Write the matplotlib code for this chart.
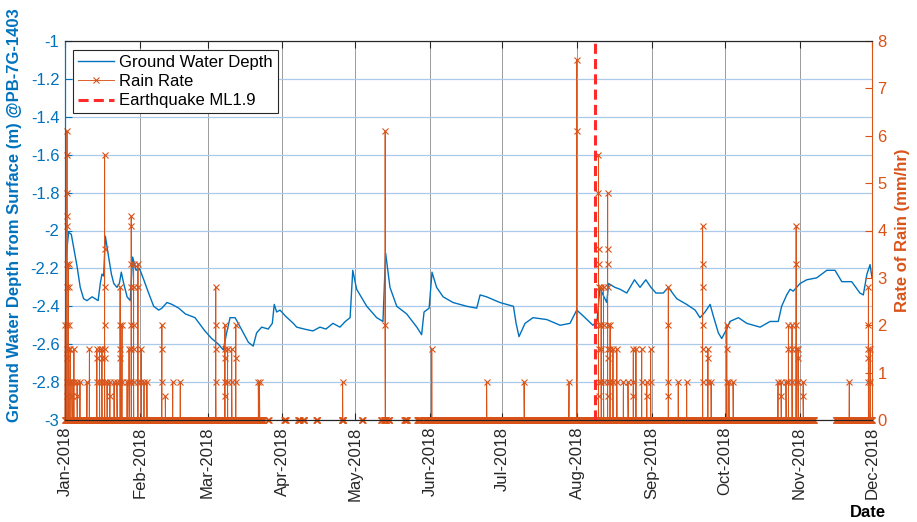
import numpy as np
import matplotlib
matplotlib.use('Agg')
import matplotlib.pyplot as plt
import matplotlib.dates as mdates
from datetime import datetime

plt.rcParams['font.family'] = ['Liberation Sans', 'DejaVu Sans']
plt.rcParams['axes.unicode_minus'] = False

BLUE = '#0072BD'
ORANGE = '#D95319'
DARK = '#262626'

# ground water depth (m), days counted from 1 Jan 2018
gw_day = [0, 0.6, 1.5, 2.6, 3.6, 5.0, 6.3, 7.7, 9.1, 11.2, 12.5, 13.7, 14.6, 15.3, 16.0, 16.7,
          17.8, 19.2, 20.2, 21.5, 22.5, 23.3, 24.3, 25.7, 27.0, 28.0, 29.4, 30.8, 32.6, 34.6,
          36.7, 38.8, 40.1, 42.2, 44.3, 47.1, 49.8, 53.8, 57.9, 60.7, 63.5, 65.5, 66.9, 68.3,
          70.4, 71.7, 73.8, 75.9, 77.9, 79.3, 81.4, 84.1, 85.8, 86.6, 87.6, 89.0, 91.1, 94.5,
          95.9, 99.0, 102.6, 105.5, 108.0, 110.9, 113.8, 116.0, 118.0, 119.1, 120.7, 124.9,
          129.0, 131.6, 132.7, 134.5, 137.3, 141.4, 145.6, 147.6, 148.6, 150.7, 151.9, 153.8,
          156.5, 160.6, 166.3, 170.4, 171.8, 174.5, 180.0, 185.6, 186.7, 187.9, 190.4, 193.7,
          199.4, 204.9, 209.0, 211.8, 214.4, 218.5, 220.2, 221.4, 222.7, 224.2, 225.0, 227.6,
          229.7, 232.5, 235.7, 238.0, 240.4, 242.5, 244.6, 247.6, 249.7, 253.2, 257.3, 260.8,
          262.8, 264.9, 267.0, 268.3, 270.4, 271.8, 273.9, 275.2, 278.7, 282.2, 287.7, 291.8,
          295.2, 296.6, 298.7, 300.1, 301.4, 304.2, 307.0, 311.1, 315.3, 318.7, 321.5, 325.6,
          329.0, 330.4, 331.9, 333.2, 334.0]
gw_depth = [-2.17, -2.12, -2.01, -2.02, -2.09, -2.19, -2.30, -2.36, -2.37, -2.35, -2.36, -2.37,
            -2.28, -2.23, -2.24, -2.03, -2.12, -2.23, -2.28, -2.30, -2.28, -2.22, -2.28, -2.35,
            -2.37, -2.14, -2.21, -2.20, -2.26, -2.33, -2.40, -2.42, -2.41, -2.38, -2.39, -2.41,
            -2.44, -2.46, -2.53, -2.57, -2.60, -2.63, -2.54, -2.46, -2.46, -2.49, -2.54, -2.59,
            -2.61, -2.54, -2.51, -2.52, -2.49, -2.39, -2.43, -2.42, -2.45, -2.49, -2.51, -2.52,
            -2.53, -2.51, -2.52, -2.49, -2.51, -2.48, -2.46, -2.21, -2.31, -2.40, -2.46, -2.48,
            -2.12, -2.30, -2.40, -2.44, -2.51, -2.55, -2.43, -2.41, -2.22, -2.30, -2.35, -2.38,
            -2.40, -2.41, -2.34, -2.35, -2.38, -2.40, -2.49, -2.56, -2.49, -2.46, -2.47, -2.50,
            -2.49, -2.42, -2.45, -2.50, -2.48, -2.30, -2.34, -2.38, -2.28, -2.30, -2.31, -2.33,
            -2.26, -2.30, -2.26, -2.30, -2.33, -2.33, -2.30, -2.36, -2.39, -2.42, -2.46, -2.43,
            -2.39, -2.45, -2.54, -2.57, -2.52, -2.48, -2.46, -2.49, -2.51, -2.48, -2.48, -2.40,
            -2.34, -2.31, -2.32, -2.28, -2.26, -2.25, -2.21, -2.21, -2.27, -2.27, -2.33, -2.34,
            -2.23, -2.18, -2.25]

# periods when the rain gauge was logging (days); it reads 0 between showers
rain_periods = [(0, 82), (84.0, 84.3), (90.8, 91.3), (96.5, 97.2), (98.5, 99.0), (104.0, 104.6),
                (114.5, 115.3), (122.8, 123.2), (130.8, 131.2), (132.0, 133.0), (133.8, 134.3),
                (140.5, 141.6), (145.8, 147.5), (149, 310), (319, 334)]
rain_step = 0.125

# showers: day and the rates logged during each (mm/hr)
shower_day = [0.1, 0.83, 1.45, 2.1, 2.9, 3.7, 5.0, 6.2, 9.1, 10.1, 13.2, 14.3, 15.3, 16.4, 17.4,
              18.6, 20.3, 21.5, 22.8, 23.6, 25.7, 26.5, 27.4, 28.4, 30.2, 31.5, 32.7, 33.9, 40.1,
              41.5, 44.6, 47.7, 62.4, 66.2, 67.3, 69.0, 70.7, 80.0, 80.5,
              114.9, 132.5, 151.8, 174.5, 190.0, 208.6, 211.8,
              220.8, 221.9, 222.9, 224.6, 225.6, 226.8, 228.4, 231.1, 233.0, 235.2, 236.3, 238.7,
              240.8, 242.4, 249.7, 253.8, 257.3, 263.9, 266.1, 267.4, 273.9, 274.8, 276.5, 295.1,
              296.4, 298.4, 299.4, 300.9, 302.6, 303.4, 305.5, 324.6, 332.5, 333.2]
shower_rates = [[2.0], [6.1, 5.6, 4.8, 4.3, 4.1, 3.3, 2.8, 2.0, 1.5, 1.3, 0.8, 0.5],
                [3.3, 2.8, 2.0, 1.5, 0.8], [1.5, 0.8], [0.8, 0.5], [1.5, 0.8], [0.8, 0.5], [0.8],
                [0.8], [1.5], [1.5, 1.3, 0.8], [1.5, 0.8], [1.5, 1.3, 0.8],
                [5.6, 3.6, 2.8, 2.0, 1.5, 1.3, 0.8], [0.8], [0.8, 0.5], [0.8], [0.8],
                [2.8, 2.0, 1.5, 1.3, 0.8], [2.0, 0.8], [0.8], [1.5, 0.8],
                [4.3, 4.1, 3.3, 2.8, 2.0, 1.5, 0.8], [3.3, 2.8, 2.0, 1.5, 0.8], [3.3, 2.8, 0.8],
                [1.5, 0.8], [0.8], [0.8], [2.0, 1.5, 0.8], [0.5], [0.8], [0.8],
                [2.8, 2.0, 1.5, 0.8], [2.0, 1.5, 1.3, 0.8, 0.5], [1.5, 0.8], [1.5, 0.8],
                [2.0, 1.3, 0.8], [0.8], [0.8],
                [0.8], [6.1, 2.0], [1.5], [0.8], [0.8], [0.8], [7.6, 6.1],
                [5.6, 4.8, 3.6, 3.3, 2.8, 2.0, 1.5, 0.8, 0.5], [2.8, 2.0, 1.5, 0.8], [2.8, 2.0, 0.8],
                [4.8, 3.6, 3.3, 2.8, 2.0, 1.5, 1.3, 0.8, 0.5], [2.0, 1.5, 0.8], [1.5, 0.8],
                [1.5, 0.8], [0.8], [0.8], [1.5, 0.8, 0.5], [1.5], [1.5, 0.8], [0.8, 0.5],
                [1.5, 0.8], [2.8, 2.0, 0.8, 0.5], [0.8], [0.8], [4.1, 3.3, 2.8, 2.0, 1.5, 0.8],
                [1.5, 1.3, 0.8], [0.8], [2.0, 1.5, 0.8], [0.8], [0.8], [0.8], [0.8, 0.5], [0.8],
                [2.0, 1.5, 0.8], [2.0, 1.5, 0.8], [4.1, 3.3, 2.0, 1.5, 0.8], [1.5, 1.3, 0.8],
                [0.8, 0.5], [0.8], [2.8, 2.0, 1.5, 1.3, 0.8], [1.5, 0.8]]

quake_day = 219.4

depth_ticks = [-3, -2.8, -2.6, -2.4, -2.2, -2, -1.8, -1.6, -1.4, -1.2, -1]
depth_labels = ['-3', '-2.8', '-2.6', '-2.4', '-2.2', '-2', '-1.8', '-1.6', '-1.4', '-1.2', '-1']
rain_ticks = [0, 1, 2, 3, 4, 5, 6, 7, 8]

t0 = mdates.date2num(datetime(2018, 1, 1))

# assemble gauge readings: zeros over logging periods, shower rates, gaps as NaN
pts = []
for a, b in rain_periods:
    for t in np.arange(a, b + 1e-9, rain_step):
        pts.append((t, 0.0))
    pts.append((b + 1e-4, np.nan))
for d, rates in zip(shower_day, shower_rates):
    for k, r in enumerate(rates):
        pts.append((d + 0.003 * k, r))
pts.sort(key=lambda p: p[0])
rain_t = np.array([p[0] for p in pts]) + t0
rain_v = np.array([p[1] for p in pts])

fig = plt.figure(figsize=(9.17, 5.22), dpi=100)
ax = fig.add_axes([65 / 917, 102 / 522, 807 / 917, 379 / 522])
ax2 = ax.twinx()

l1, = ax.plot(np.array(gw_day) + t0, gw_depth, color=BLUE, lw=1.0)
l2, = ax2.plot(rain_t, rain_v, color=ORANGE, lw=0.65, marker='x', ms=4.5, mew=0.8,
               clip_on=False)
l3 = ax2.axvline(t0 + quake_day, color='#FF2A2A', lw=2.2, linestyle=(0, (3.3, 1.7)))

months = [mdates.date2num(datetime(2018, m, 1)) for m in range(1, 13)]
ax.set_xlim(months[0], months[-1])
ax.set_xticks(months)
ax.xaxis.set_major_formatter(mdates.DateFormatter('%b-%Y'))
for lab in ax.get_xticklabels():
    lab.set_rotation(90)

ax.set_ylim(-3, -1)
ax.set_yticks(depth_ticks)
ax.set_yticklabels(depth_labels)
ax2.set_ylim(0, 8)
ax2.set_yticks(rain_ticks)

ax.grid(axis='y', color='#a9cbe9', lw=0.9)
ax.grid(axis='x', color='#9a9a9a', lw=0.7)

ax.tick_params(axis='y', colors=BLUE, direction='in', length=5, labelsize=12, pad=4)
ax.tick_params(axis='x', colors=DARK, direction='in', length=5, labelsize=12, pad=5, top=True)
ax2.tick_params(axis='y', colors=ORANGE, direction='in', length=5, labelsize=12, pad=4)

ax.spines['left'].set_color(BLUE)
ax.spines['right'].set_visible(False)
ax2.spines['left'].set_color(BLUE)
ax2.spines['right'].set_color(ORANGE)
for a in (ax, ax2):
    a.spines['top'].set_color(DARK)
    a.spines['bottom'].set_color(DARK)

ax.set_ylabel('Ground Water Depth from Surface (m) @PB-7G-1403', color=BLUE,
              fontsize=12, fontweight='bold', va='center')
ax.yaxis.set_label_coords(-0.062, 0.54)
ax2.set_ylabel('Rate of Rain (mm/hr)', color=ORANGE, fontsize=12, fontweight='bold',
               va='center', rotation=90)
ax2.yaxis.set_label_coords(1.038, 0.5)
ax.set_xlabel('Date', fontsize=12, fontweight='bold', va='center')
ax.xaxis.set_label_coords(0.995, -0.245)

leg = ax2.legend([l1, l2, l3], ['Ground Water Depth', 'Rain Rate', 'Earthquake ML1.9'],
                 loc='upper left', bbox_to_anchor=(0.0095, 0.976), borderaxespad=0,
                 fancybox=False, edgecolor=DARK, framealpha=1, fontsize=12,
                 handlelength=2.2, handletextpad=0.3, labelspacing=0.25, borderpad=0.3)
leg.get_frame().set_linewidth(0.8)

fig.savefig('out.png', dpi=100)
